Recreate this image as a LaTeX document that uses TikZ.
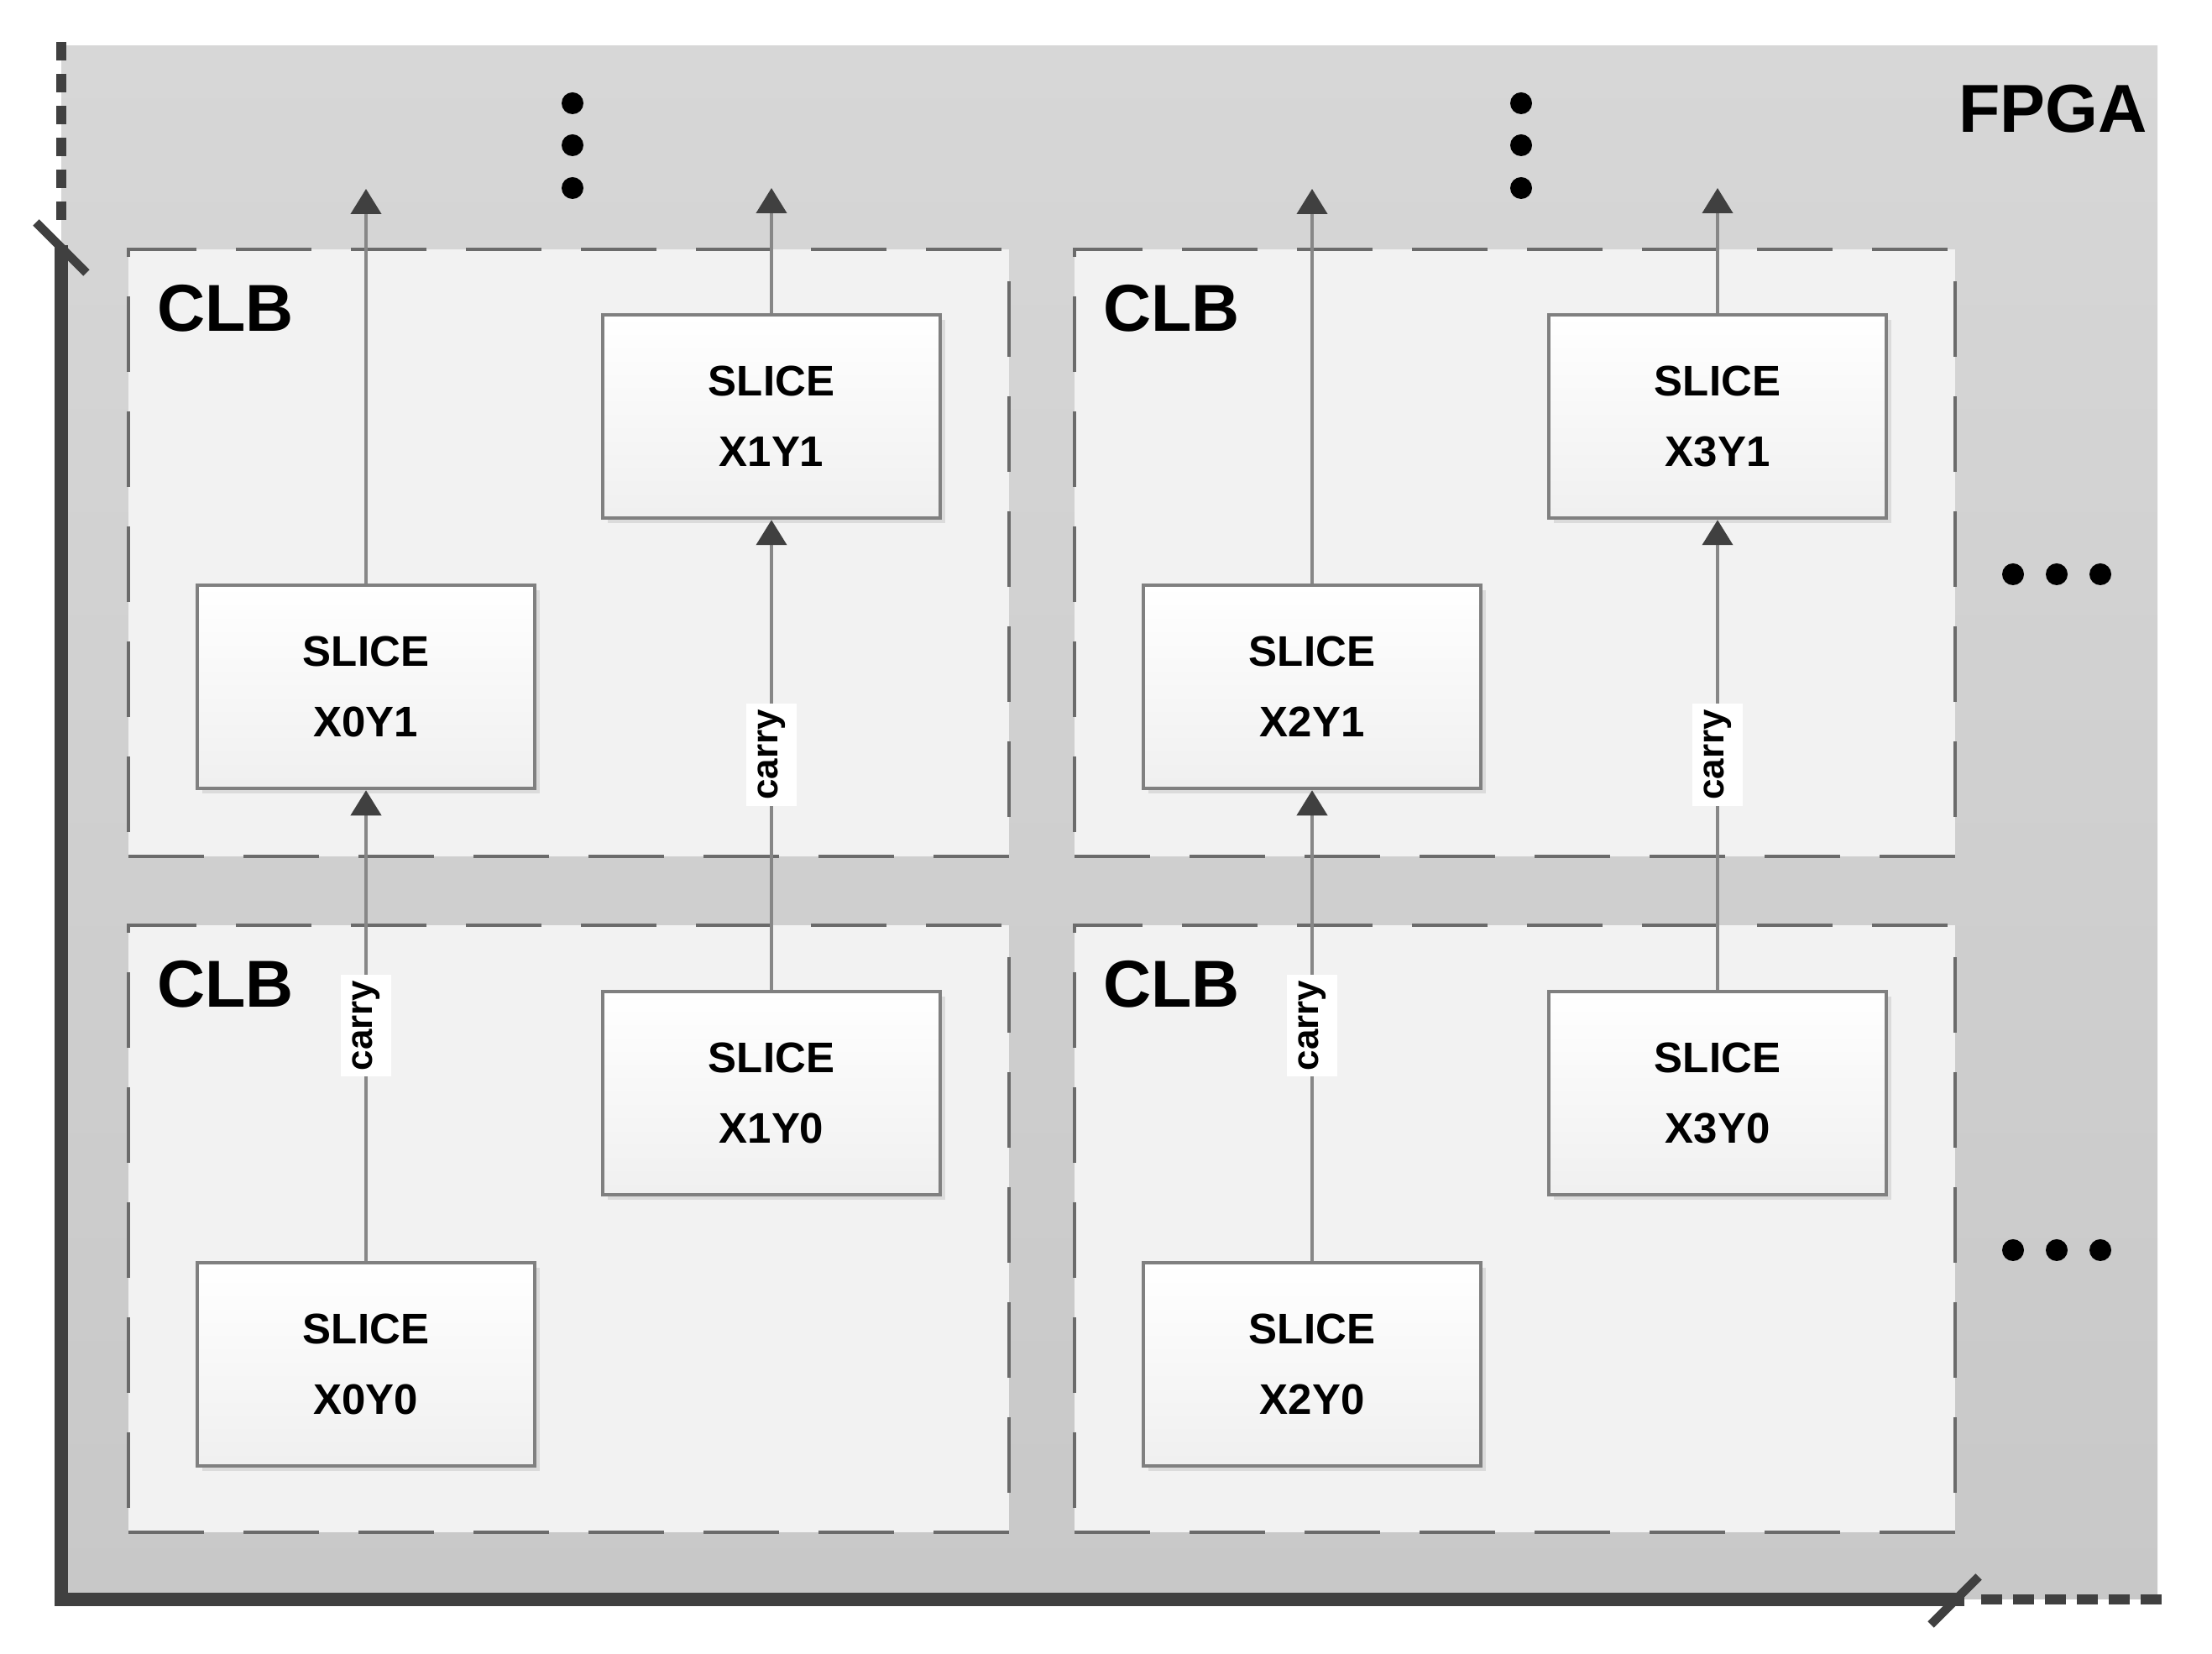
\documentclass[tikz,border=0pt]{standalone}
\usepackage{fontspec}
\setmainfont{Liberation Sans}
\usetikzlibrary{arrows.meta,positioning,shadows}

\definecolor{fpgatop}{RGB}{215,215,215}
\definecolor{fpgabottom}{RGB}{200,200,200}
\definecolor{clbfill}{RGB}{242,242,242}
\definecolor{framegray}{RGB}{64,64,64}
\definecolor{wiregray}{RGB}{135,135,135}

\tikzset{
  slicebox/.style={rectangle, draw=black!50, line width=1.3pt, top color=white, bottom color=black!6,
    minimum width=4.02cm, minimum height=2.42cm, align=center,
    font=\fontsize{14.5}{24}\selectfont\bfseries,
    drop shadow={shadow xshift=0.6mm, shadow yshift=-0.6mm, opacity=0.2}},
  clbbox/.style={rectangle, draw=black!58, fill=clbfill, line width=1.2pt,
    dash pattern=on 0.9cm off 0.47cm, minimum width=10.49cm, minimum height=7.23cm, inner sep=0pt},
  clblabel/.style={anchor=base west, font=\fontsize{22.5}{26}\selectfont\bfseries},
  carrywire/.style={draw=wiregray, line width=1.2pt, -{Triangle[length=3mm,width=3.6mm,color=framegray]}},
  carrylabel/.style={fill=white, rotate=90, inner xsep=2pt, inner ysep=4pt, font=\fontsize{12.5}{14}\selectfont\bfseries},
  moredot/.style={fill=black}
}

\begin{document}
\begin{tikzpicture}
\useasboundingbox (0,0) rectangle (26.35,19.70);

% FPGA area
\shade[top color=fpgatop, bottom color=fpgabottom] (0.73,0.65) rectangle (25.70,19.15);
\draw[framegray, line width=4.8pt] (0.73,16.78) -- (0.73,0.65) -- (23.40,0.65);
\draw[framegray, line width=3.6pt, dash pattern=on 0.22cm off 0.16cm] (0.73,19.20) -- (0.73,16.95);
\draw[framegray, line width=3.6pt, dash pattern=on 0.25cm off 0.13cm] (23.60,0.65) -- (25.77,0.65);
\draw[framegray, line width=3pt] (0.43,17.05) -- (1.03,16.45);
\draw[framegray, line width=3pt] (23.00,0.35) -- (23.57,0.92);
\node[anchor=base east, font=\fontsize{23}{27}\selectfont\bfseries] (fpga) at (25.70,18.12) {FPGA};

% CLBs
\node[clbbox] (clbA) at (6.775,13.115) {};
\node[clbbox] (clbB) at (6.775,5.065) {};
\node[clbbox] (clbC) at (18.045,13.115) {};
\node[clbbox] (clbD) at (18.045,5.065) {};
\node[clblabel] (labA) at ([shift={(0.24,-1.00)}]clbA.north west) {CLB};
\node[clblabel] (labB) at ([shift={(0.24,-1.00)}]clbB.north west) {CLB};
\node[clblabel] (labC) at ([shift={(0.24,-1.00)}]clbC.north west) {CLB};
\node[clblabel] (labD) at ([shift={(0.24,-1.00)}]clbD.north west) {CLB};

% slices
\node[slicebox] (x0y1) at (4.36,11.52) {SLICE\\X0Y1};
\node[slicebox] (x1y1) at (9.19,14.74) {SLICE\\X1Y1};
\node[slicebox] (x0y0) at (4.36,3.45) {SLICE\\X0Y0};
\node[slicebox] (x1y0) at (9.19,6.68) {SLICE\\X1Y0};
\node[slicebox] (x2y1) at (15.63,11.52) {SLICE\\X2Y1};
\node[slicebox] (x3y1) at (20.46,14.74) {SLICE\\X3Y1};
\node[slicebox] (x2y0) at (15.63,3.45) {SLICE\\X2Y0};
\node[slicebox] (x3y0) at (20.46,6.68) {SLICE\\X3Y0};

% carry chains
\coordinate (out0) at (4.36,17.45);
\coordinate (out1) at (9.19,17.46);
\coordinate (out2) at (15.63,17.45);
\coordinate (out3) at (20.46,17.46);
\draw[carrywire] (x0y0) -- node[carrylabel] {carry} (x0y1);
\draw[carrywire] (x1y0) -- node[carrylabel] {carry} (x1y1);
\draw[carrywire] (x2y0) -- node[carrylabel] {carry} (x2y1);
\draw[carrywire] (x3y0) -- node[carrylabel] {carry} (x3y1);
\draw[carrywire] (x0y1) -- (out0);
\draw[carrywire] (x1y1) -- (out1);
\draw[carrywire] (x2y1) -- (out2);
\draw[carrywire] (x3y1) -- (out3);

% more CLBs
\fill[moredot] (6.82,18.47) circle (0.13);
\fill[moredot] (6.82,17.97) circle (0.13);
\fill[moredot] (6.82,17.46) circle (0.13);
\fill[moredot] (18.12,18.47) circle (0.13);
\fill[moredot] (18.12,17.97) circle (0.13);
\fill[moredot] (18.12,17.46) circle (0.13);
\fill[moredot] (23.98,12.86) circle (0.13);
\fill[moredot] (24.50,12.86) circle (0.13);
\fill[moredot] (25.02,12.86) circle (0.13);
\fill[moredot] (23.98,4.81) circle (0.13);
\fill[moredot] (24.50,4.81) circle (0.13);
\fill[moredot] (25.02,4.81) circle (0.13);
\end{tikzpicture}
\end{document}
